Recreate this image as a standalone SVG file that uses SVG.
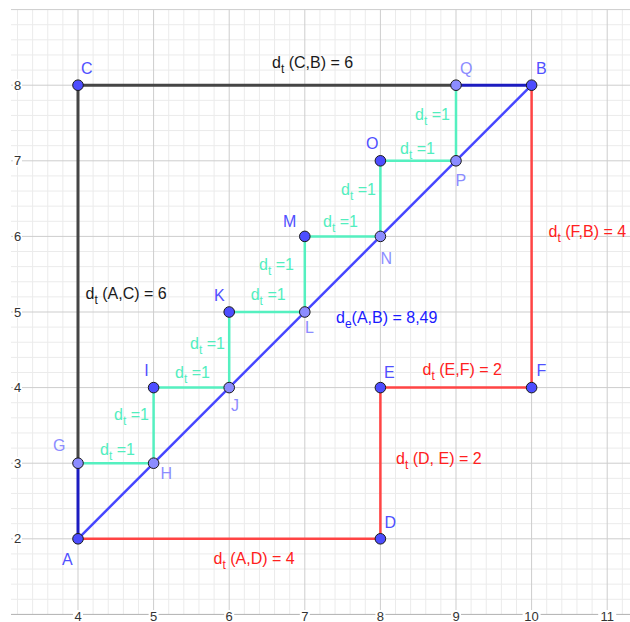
<svg xmlns="http://www.w3.org/2000/svg" width="630" height="622" viewBox="0 0 630 622">
<style>
text{font-family:"Liberation Sans",Arial,sans-serif}
.minor{stroke:#ebebeb;stroke-width:1;fill:none}
.major{stroke:#cdcdcd;stroke-width:1;fill:none}
.axis{stroke:#b0b0b0;stroke-width:1;fill:none}
.tick{font-size:13px;fill:#333;text-anchor:middle}
.tbg{fill:#fff}
.seg{fill:none;stroke-linecap:round}
.dark{stroke:#454545;stroke-width:3}
.dblue{stroke:#1c1cc0;stroke-width:3}
.red{stroke:#ff4444;stroke-width:2.5}
.diag{stroke:#4646ff;stroke-width:2.5}
.cyan{stroke:#55f0c0;stroke-width:2.5}
.pt{stroke:#1a1a1a;stroke-width:1}
.pd{fill:#4d4dff}
.pl{fill:#8c8cff}
.lab{font-size:16px}
.ld{fill:#5050ff}
.ll{fill:#8c8cff}
.lbl{font-size:16px}
.sub{font-size:12px}
.tc{fill:#52eebe}
.tr{fill:#ff2020}
.tk{fill:#1a1a1a}
.tb{fill:#1a1aff}
</style>
<rect width="630" height="622" fill="#fff"/>
<g id="grid">
<path class="minor" d="M17.52 9.6V614.4M32.64 9.6V614.4M47.76 9.6V614.4M62.88 9.6V614.4M93.12 9.6V614.4M108.24 9.6V614.4M123.36 9.6V614.4M138.48 9.6V614.4M168.72 9.6V614.4M183.84 9.6V614.4M198.96 9.6V614.4M214.08 9.6V614.4M244.32 9.6V614.4M259.44 9.6V614.4M274.56 9.6V614.4M289.68 9.6V614.4M319.92 9.6V614.4M335.04 9.6V614.4M350.16 9.6V614.4M365.28 9.6V614.4M395.52 9.6V614.4M410.64 9.6V614.4M425.76 9.6V614.4M440.88 9.6V614.4M471.12 9.6V614.4M486.24 9.6V614.4M501.36 9.6V614.4M516.48 9.6V614.4M546.72 9.6V614.4M561.84 9.6V614.4M576.96 9.6V614.4M592.08 9.6V614.4M622.32 9.6V614.4
M11 24.72H630M11 39.84H630M11 54.96H630M11 70.08H630M11 100.32H630M11 115.44H630M11 130.56H630M11 145.68H630M11 175.92H630M11 191.04H630M11 206.16H630M11 221.28H630M11 251.52H630M11 266.64H630M11 281.76H630M11 296.88H630M11 327.12H630M11 342.24H630M11 357.36H630M11 372.48H630M11 402.72H630M11 417.84H630M11 432.96H630M11 448.08H630M11 478.32H630M11 493.44H630M11 508.56H630M11 523.68H630M11 553.92H630M11 569.04H630M11 584.16H630M11 599.28H630"/>
<path class="major" d="M78 9.6V622M153.6 9.6V622M229.2 9.6V622M304.8 9.6V622M380.4 9.6V622M456 9.6V622M531.6 9.6V622M607.2 9.6V622
M11 9.6H630M11 85.2H630M11 160.8H630M11 236.4H630M11 312H630M11 387.6H630M11 463.2H630M11 538.8H630"/>
<path class="axis" d="M11 614.4H630"/>
<g>
<rect class="tbg" x="13" y="79" width="9" height="12"/><text class="tick" x="17.5" y="89.8">8</text>
<rect class="tbg" x="13" y="154.6" width="9" height="12"/><text class="tick" x="17.5" y="165.4">7</text>
<rect class="tbg" x="13" y="230.2" width="9" height="12"/><text class="tick" x="17.5" y="241">6</text>
<rect class="tbg" x="13" y="305.8" width="9" height="12"/><text class="tick" x="17.5" y="316.6">5</text>
<rect class="tbg" x="13" y="381.4" width="9" height="12"/><text class="tick" x="17.5" y="392.2">4</text>
<rect class="tbg" x="13" y="457" width="9" height="12"/><text class="tick" x="17.5" y="467.8">3</text>
<rect class="tbg" x="13" y="532.6" width="9" height="12"/><text class="tick" x="17.5" y="543.4">2</text>
<rect class="tbg" x="73" y="610" width="10" height="12"/><text class="tick" x="78" y="620.5">4</text>
<rect class="tbg" x="148.6" y="610" width="10" height="12"/><text class="tick" x="153.6" y="620.5">5</text>
<rect class="tbg" x="224.2" y="610" width="10" height="12"/><text class="tick" x="229.2" y="620.5">6</text>
<rect class="tbg" x="299.8" y="610" width="10" height="12"/><text class="tick" x="304.8" y="620.5">7</text>
<rect class="tbg" x="375.4" y="610" width="10" height="12"/><text class="tick" x="380.4" y="620.5">8</text>
<rect class="tbg" x="451" y="610" width="10" height="12"/><text class="tick" x="456" y="620.5">9</text>
<rect class="tbg" x="522.6" y="610" width="18" height="12"/><text class="tick" x="531.6" y="620.5">10</text>
<rect class="tbg" x="598.2" y="610" width="18" height="12"/><text class="tick" x="607.2" y="620.5">11</text>
</g>
</g>
<g id="connectors">
<path class="seg dark" d="M78 85.2H456M78 85.2V463.2"/>
<path class="seg dblue" d="M456 85.2H531.6M78 463.2V538.8"/>
<path class="seg red" d="M78 538.8H380.4V387.6H531.6V85.2"/>
<path class="seg cyan" d="M78 463.2H153.6V387.6H229.2V312H304.8V236.4H380.4V160.8H456V85.2"/>
<path class="seg diag" d="M78 538.8L531.6 85.2"/>
<g id="connector-labels">
<text class="lbl tk" x="272" y="68">d<tspan class="sub" dy="5">t</tspan><tspan dy="-5"> (C,B) = 6</tspan></text>
<text class="lbl tk" x="85.5" y="299.3">d<tspan class="sub" dy="5">t</tspan><tspan dy="-5"> (A,C) = 6</tspan></text>
<text class="lbl tb" x="336" y="322.7">d<tspan class="sub" dy="5">e</tspan><tspan dy="-5">(A,B) = 8,49</tspan></text>
<text class="lbl tr" x="548.5" y="237">d<tspan class="sub" dy="5">t</tspan><tspan dy="-5"> (F,B) = 4</tspan></text>
<text class="lbl tr" x="422.5" y="375">d<tspan class="sub" dy="5">t</tspan><tspan dy="-5"> (E,F) = 2</tspan></text>
<text class="lbl tr" x="396" y="464">d<tspan class="sub" dy="5">t</tspan><tspan dy="-5"> (D, E) = 2</tspan></text>
<text class="lbl tr" x="213.5" y="564.3">d<tspan class="sub" dy="5">t</tspan><tspan dy="-5"> (A,D) = 4</tspan></text>
<text class="lbl tc" x="100" y="455">d<tspan class="sub" dy="5">t</tspan><tspan dy="-5"> =1</tspan></text>
<text class="lbl tc" x="114" y="420">d<tspan class="sub" dy="5">t</tspan><tspan dy="-5"> =1</tspan></text>
<text class="lbl tc" x="175" y="378">d<tspan class="sub" dy="5">t</tspan><tspan dy="-5"> =1</tspan></text>
<text class="lbl tc" x="190" y="349">d<tspan class="sub" dy="5">t</tspan><tspan dy="-5"> =1</tspan></text>
<text class="lbl tc" x="250.7" y="300">d<tspan class="sub" dy="5">t</tspan><tspan dy="-5"> =1</tspan></text>
<text class="lbl tc" x="259" y="270">d<tspan class="sub" dy="5">t</tspan><tspan dy="-5"> =1</tspan></text>
<text class="lbl tc" x="323" y="227">d<tspan class="sub" dy="5">t</tspan><tspan dy="-5"> =1</tspan></text>
<text class="lbl tc" x="341" y="195">d<tspan class="sub" dy="5">t</tspan><tspan dy="-5"> =1</tspan></text>
<text class="lbl tc" x="400" y="154">d<tspan class="sub" dy="5">t</tspan><tspan dy="-5"> =1</tspan></text>
<text class="lbl tc" x="415" y="120">d<tspan class="sub" dy="5">t</tspan><tspan dy="-5"> =1</tspan></text>
</g>
</g>
<g id="A"><circle class="pt pd" cx="78" cy="538.8" r="5.3"/><text class="lab ld" x="62" y="565">A</text></g>
<g id="B"><circle class="pt pd" cx="531.6" cy="85.2" r="5.3"/><text class="lab ld" x="536" y="74">B</text></g>
<g id="C"><circle class="pt pd" cx="78" cy="85.2" r="5.3"/><text class="lab ld" x="81" y="74">C</text></g>
<g id="D"><circle class="pt pd" cx="380.4" cy="538.8" r="5.3"/><text class="lab ld" x="384.5" y="528">D</text></g>
<g id="E"><circle class="pt pd" cx="380.4" cy="387.6" r="5.3"/><text class="lab ld" x="384" y="378">E</text></g>
<g id="F"><circle class="pt pd" cx="531.6" cy="387.6" r="5.3"/><text class="lab ld" x="536.5" y="376">F</text></g>
<g id="G"><circle class="pt pl" cx="78" cy="463.2" r="5.3"/><text class="lab ll" x="53" y="451">G</text></g>
<g id="H"><circle class="pt pl" cx="153.6" cy="463.2" r="5.3"/><text class="lab ll" x="160.5" y="479">H</text></g>
<g id="I"><circle class="pt pd" cx="153.6" cy="387.6" r="5.3"/><text class="lab ld" x="144.3" y="376">I</text></g>
<g id="J"><circle class="pt pl" cx="229.2" cy="387.6" r="5.3"/><text class="lab ll" x="231" y="411">J</text></g>
<g id="K"><circle class="pt pd" cx="229.2" cy="312" r="5.3"/><text class="lab ld" x="214" y="301">K</text></g>
<g id="L"><circle class="pt pl" cx="304.8" cy="312" r="5.3"/><text class="lab ll" x="305" y="333">L</text></g>
<g id="M"><circle class="pt pd" cx="304.8" cy="236.4" r="5.3"/><text class="lab ld" x="283" y="227">M</text></g>
<g id="N"><circle class="pt pl" cx="380.4" cy="236.4" r="5.3"/><text class="lab ll" x="380.5" y="264">N</text></g>
<g id="O"><circle class="pt pd" cx="380.4" cy="160.8" r="5.3"/><text class="lab ld" x="366" y="149">O</text></g>
<g id="P"><circle class="pt pl" cx="456" cy="160.8" r="5.3"/><text class="lab ll" x="455.5" y="186">P</text></g>
<g id="Q"><circle class="pt pl" cx="456" cy="85.2" r="5.3"/><text class="lab ll" x="460" y="74">Q</text></g>
</svg>
